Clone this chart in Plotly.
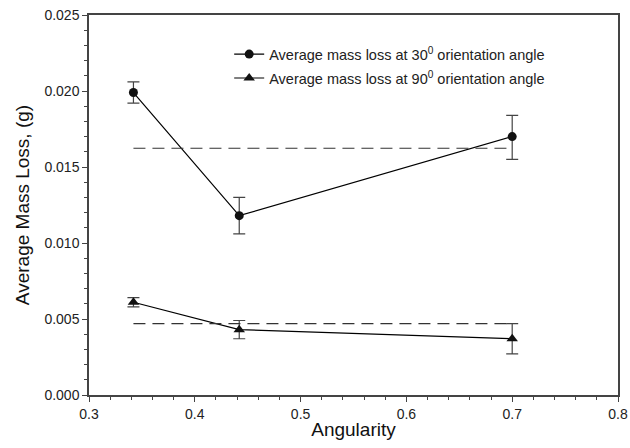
import plotly.graph_objects as go

angularity = [0.342, 0.442, 0.700]
loss_30 = [0.0199, 0.0118, 0.0170]
err30_plus = [0.0007, 0.0012, 0.0014]
err30_minus = [0.0007, 0.0012, 0.0015]
loss_90 = [0.0061, 0.0043, 0.0037]
err90_plus = [0.0003, 0.0006, 0.0010]
err90_minus = [0.0003, 0.0006, 0.0010]
mean_30 = [sum(loss_30) / 3] * 2
mean_90 = [sum(loss_90) / 3] * 2
mean_x = [angularity[0], angularity[-1]]

FONT = "Liberation Sans, Arial, sans-serif"

fig = go.Figure()
fig.add_trace(go.Scatter(
    x=angularity, y=loss_30, mode="lines+markers",
    name="Average mass loss at 30<sup>0</sup> orientation angle",
    legend="legend",
    line=dict(color="black", width=1.2),
    marker=dict(symbol="circle", size=9, color="#111111"),
    error_y=dict(type="data", symmetric=False, array=err30_plus, arrayminus=err30_minus,
                 color="#444444", thickness=1.2, width=6),
))
fig.add_trace(go.Scatter(
    x=angularity, y=loss_90, mode="lines+markers",
    name="Average mass loss at 90<sup>0</sup> orientation angle",
    legend="legend2",
    line=dict(color="black", width=1.2),
    marker=dict(symbol="triangle-up", size=10, color="#111111"),
    error_y=dict(type="data", symmetric=False, array=err90_plus, arrayminus=err90_minus,
                 color="#444444", thickness=1.2, width=6),
))
fig.add_trace(go.Scatter(x=mean_x, y=mean_30, mode="lines", showlegend=False,
                         line=dict(color="#333333", width=1.2, dash="12px,7px")))
fig.add_trace(go.Scatter(x=mean_x, y=mean_90, mode="lines", showlegend=False,
                         line=dict(color="#333333", width=1.2, dash="12px,7px")))

axis_common = dict(
    showline=True, linecolor="#444444", linewidth=1.5, mirror=True,
    ticks="outside", ticklen=5, tickcolor="#444444", tickwidth=1,
    showgrid=False, zeroline=False, automargin=False,
    ticklabeloverflow="allow",
    tickfont=dict(family=FONT, size=14, color="#222222"),
)
fig.update_xaxes(range=[0.3, 0.8], dtick=0.1, tickformat=".1f",
                 minor=dict(dtick=0.02, ticks="outside", ticklen=3, tickcolor="#444444"),
                 title=dict(text="Angularity", font=dict(family=FONT, size=19, color="#111111"), standoff=2),
                 **axis_common)
fig.update_yaxes(range=[0, 0.025], dtick=0.005, tickformat=".3f",
                 minor=dict(dtick=0.001, ticks="outside", ticklen=3, tickcolor="#444444"),
                 title=dict(text="Average Mass Loss, (g)", font=dict(family=FONT, size=19, color="#111111"), standoff=10),
                 **axis_common)

legend_common = dict(xanchor="left", yanchor="middle", bgcolor="rgba(0,0,0,0)",
                     font=dict(family=FONT, size=14.5, color="#222222"))
fig.update_layout(
    width=630, height=448,
    margin=dict(l=89, r=12, t=15, b=53),
    plot_bgcolor="white", paper_bgcolor="white",
    hovermode=False,
    legend=dict(x=0.265, y=0.897, **legend_common),
    legend2=dict(x=0.265, y=0.834, **legend_common),
)
fig.write_html("out.html", config={"displayModeBar": False},
               post_script="document.body.style.margin='0';document.body.style.overflow='hidden';")
